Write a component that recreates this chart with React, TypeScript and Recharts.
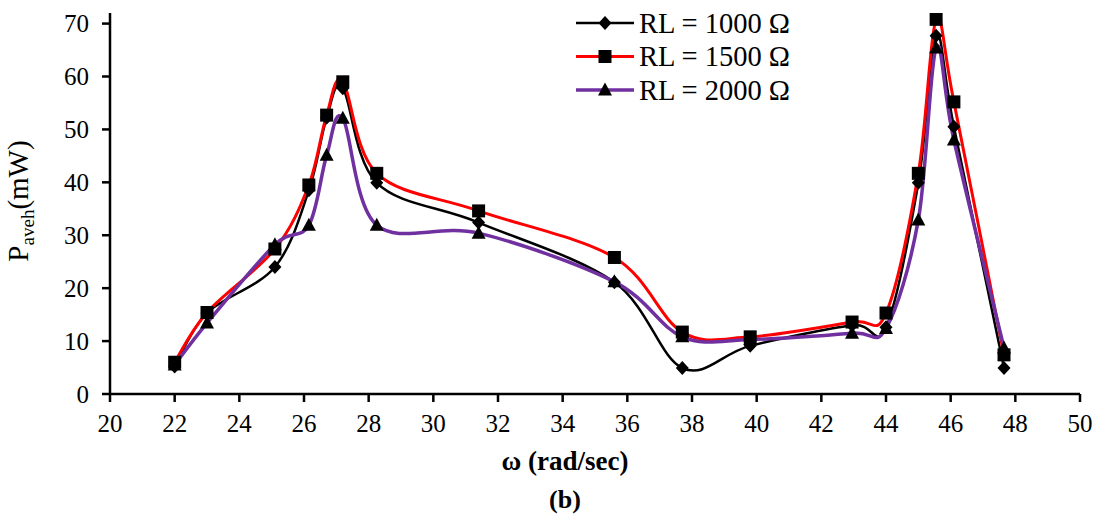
import { LineChart, Line, XAxis, YAxis } from "recharts";

// angular frequency (rad/sec) where the three load cases were measured
const omega = [22, 23, 25.1, 26.15, 26.7, 27.2, 28.25, 31.4, 35.6, 37.7, 39.8, 42.95, 44, 45, 45.55, 46.1, 47.65];

// average harvested power (mW)
const rl1000 = [5.2, 15.3, 24.0, 38.5, 52.2, 57.8, 39.9, 32.4, 21.1, 4.9, 9.1, 13.0, 12.6, 39.9, 67.7, 50.5, 4.9];
const rl1500 = [6.0, 15.4, 27.4, 39.5, 52.7, 59.0, 41.7, 34.6, 25.8, 11.7, 10.8, 13.6, 15.3, 41.7, 70.8, 55.2, 7.4];
const rl2000 = [5.5, 13.4, 28.2, 31.9, 45.1, 52.1, 31.9, 30.4, 21.2, 10.8, 10.3, 11.5, 12.4, 32.9, 65.4, 48.0, 8.7];

const seriesNames = ["RL = 1000 Ω", "RL = 1500 Ω", "RL = 2000 Ω"];
const xTicks = [20, 22, 24, 26, 28, 30, 32, 34, 36, 38, 40, 42, 44, 46, 48, 50];
const yTicks = [0, 10, 20, 30, 40, 50, 60, 70];

const rows = omega.map((w, i) => ({ w, r1: rl1000[i], r2: rl1500[i], r3: rl2000[i] }));

const serif = "Liberation Serif, DejaVu Serif";

// Excel-like smoothed line: Catmull-Rom bezier through every point
function excelSmooth(context: any) {
  let pts: number[][] = [];
  return {
    areaStart() {},
    areaEnd() {},
    lineStart() {
      pts = [];
    },
    point(x: number, y: number) {
      pts.push([+x, +y]);
    },
    lineEnd() {
      const n = pts.length;
      if (!n) return;
      context.moveTo(pts[0][0], pts[0][1]);
      for (let i = 0; i < n - 1; i++) {
        const p0 = pts[Math.max(i - 1, 0)];
        const p1 = pts[i];
        const p2 = pts[i + 1];
        const p3 = pts[Math.min(i + 2, n - 1)];
        context.bezierCurveTo(
          p1[0] + (p2[0] - p0[0]) / 6,
          p1[1] + (p2[1] - p0[1]) / 6,
          p2[0] - (p3[0] - p1[0]) / 6,
          p2[1] - (p3[1] - p1[1]) / 6,
          p2[0],
          p2[1]
        );
      }
    },
  };
}

const diamond = (cx: number, cy: number) => (
  <path d={`M${cx} ${cy - 7}L${cx + 6.5} ${cy}L${cx} ${cy + 7}L${cx - 6.5} ${cy}Z`} fill="#000" />
);
const square = (cx: number, cy: number) => <rect x={cx - 6.5} y={cy - 6.5} width={13} height={13} fill="#000" />;
const triangle = (cx: number, cy: number) => (
  <path d={`M${cx} ${cy - 7.5}L${cx + 7} ${cy + 5.5}L${cx - 7} ${cy + 5.5}Z`} fill="#000" />
);

const markers = [diamond, square, triangle];
const colors = ["#000000", "#ff0000", "#7030a0"];
const widths = [2.5, 3, 3.5];
const keys = ["r1", "r2", "r3"];

const dotFor = (k: number) => (props: any) => {
  if (props.cx == null || props.cy == null) return <g key={props.index} />;
  return <g key={`${k}-${props.index}`}>{markers[k](props.cx, props.cy)}</g>;
};

const tickStyle = { fill: "#000", fontSize: 25, style: { fontFamily: serif } };

export default function App() {
  return (
    <div
      style={{ position: "absolute", left: 0, top: 0, width: 1100, height: 520, background: "#fff", fontFamily: serif }}
    >
      <LineChart width={1100} height={520} data={rows} margin={{ top: 13, right: 20, left: 0, bottom: 0 }}>
        <XAxis
          type="number"
          dataKey="w"
          domain={[20, 50]}
          ticks={xTicks}
          height={126}
          tickSize={8}
          tickMargin={12}
          axisLine={{ stroke: "#000", strokeWidth: 2.5 }}
          tickLine={{ stroke: "#000", strokeWidth: 2.5 }}
          tick={tickStyle}
        />
        <YAxis
          type="number"
          domain={[0, 72]}
          ticks={yTicks}
          width={110}
          tickSize={8}
          tickMargin={13}
          allowDataOverflow
          axisLine={{ stroke: "#000", strokeWidth: 2.5 }}
          tickLine={{ stroke: "#000", strokeWidth: 2.5 }}
          tick={tickStyle}
        />
        {keys.map((k, i) => (
          <Line
            key={k}
            dataKey={k}
            name={seriesNames[i]}
            type={excelSmooth as any}
            stroke={colors[i]}
            strokeWidth={widths[i]}
            dot={dotFor(i)}
            activeDot={false}
            isAnimationActive={false}
          />
        ))}
      </LineChart>

      <svg
        width={1100}
        height={520}
        style={{ position: "absolute", left: 0, top: 0, pointerEvents: "none", fontFamily: serif }}
      >
        {/* y axis title */}
        <text transform="translate(28 201) rotate(-90)" textAnchor="middle" fill="#000" fontSize={29}>
          P
          <tspan fontSize={19} dy={6}>aveh</tspan>
          <tspan dy={-6}>(mW)</tspan>
        </text>

        {/* x axis title and panel tag */}
        <text x={565} y={470} textAnchor="middle" fontWeight="bold" fontSize={27} fill="#000">
          ω (rad/sec)
        </text>
        <text x={565} y={508} textAnchor="middle" fontWeight="bold" fontSize={26} fill="#000">
          (b)
        </text>

        {/* legend */}
        {seriesNames.map((name, i) => {
          const y = 23 + i * 33.5;
          return (
            <g key={name}>
              <line x1={576} x2={634} y1={y} y2={y} stroke={colors[i]} strokeWidth={widths[i]} />
              {markers[i](605, y)}
              <text x={639} y={y + 9.5} fontSize={28.5} fill="#000">
                {name}
              </text>
            </g>
          );
        })}
      </svg>
    </div>
  );
}
